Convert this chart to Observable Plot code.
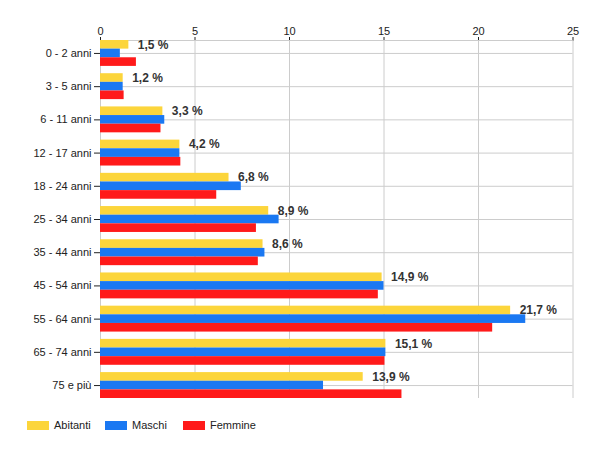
<!DOCTYPE html>
<html><head><meta charset="utf-8">
<script src="https://cdn.jsdelivr.net/npm/d3@7"></script>
<script src="https://cdn.jsdelivr.net/npm/@observablehq/plot@0.6"></script>
<style>
body{margin:0;background:#fff;font-family:"Liberation Sans",Arial,sans-serif;}
#legend{display:flex;align-items:center;padding:9px 0 0 27px;font-size:11px;color:#222;}
#legend .item{display:flex;align-items:center;width:78px;}
#legend .sw{width:22px;height:9px;margin-right:5px;}
</style></head><body><div id="chart"></div><div id="legend"></div>
<script>
const ages = ["0 - 2 anni","3 - 5 anni","6 - 11 anni","12 - 17 anni","18 - 24 anni","25 - 34 anni","35 - 44 anni","45 - 54 anni","55 - 64 anni","65 - 74 anni","75 e più"];
const series = ["Abitanti","Maschi","Femmine"];
const abitanti = [1.5,1.2,3.3,4.2,6.8,8.9,8.6,14.9,21.7,15.1,13.9];
const maschi = [1.05,1.2,3.4,4.2,7.45,9.45,8.7,15.0,22.5,15.1,11.8];
const femmine = [1.9,1.25,3.2,4.25,6.15,8.25,8.35,14.7,20.75,15.05,15.95];
const xTicks = [0,5,10,15,20,25];
const colors = ["#fcd53b","#1a78f2","#ff1a1a"];

const valuesBySeries = [abitanti, maschi, femmine];
const data = valuesBySeries.map((vals, k) => ages.map((a, i) => ({age: a, series: series[k], value: vals[i]})));

const W = 600, H = 410, mt = 40, mb = 12, ml = 100, mr = 27.5;
const padIn = 0.22;
const step = (H - mt - mb) / (ages.length - padIn);
const bw = step * (1 - padIn);
const part = bw / 3;
const fmt = v => v.toFixed(1).replace(".", ",") + " %";

const chart = Plot.plot({
  width: W, height: H,
  marginTop: mt, marginBottom: mb, marginLeft: ml, marginRight: mr,
  style: {fontFamily: '"Liberation Sans", Arial, sans-serif', fontSize: "11px", color: "#222", background: "#fff"},
  x: {domain: [0, 25], axis: "top", ticks: xTicks, tickSize: 4, tickPadding: 2, label: null, tickFormat: d => String(d)},
  y: {domain: ages, paddingInner: padIn, paddingOuter: 0, round: false, tickSize: 6, tickPadding: 3, label: null},
  marks: [
    Plot.ruleX(xTicks, {x: d => d, stroke: "#cccccc"}),
    Plot.ruleY(ages, {y: d => d, stroke: "#cccccc"}),
    Plot.ruleY([ages[0]], {y: d => d, dy: -bw / 2, stroke: "#cccccc"}),
    ...data.map((d, k) => Plot.barX(d, {x: "value", y: "age", fill: colors[k], insetTop: k * part, insetBottom: (2 - k) * part})),
    Plot.text(data[0], {x: "value", y: "age", text: d => fmt(d.value), dx: 9, dy: -part, textAnchor: "start", lineAnchor: "middle", fill: "#333", fontWeight: "bold", fontSize: 12})
  ]
});
document.getElementById("chart").appendChild(chart);

const legend = d3.select("#legend");
series.forEach((s, k) => {
  const it = legend.append("div").attr("class", "item");
  it.append("div").attr("class", "sw").style("background", colors[k]);
  it.append("span").text(s);
});
</script></body></html>
